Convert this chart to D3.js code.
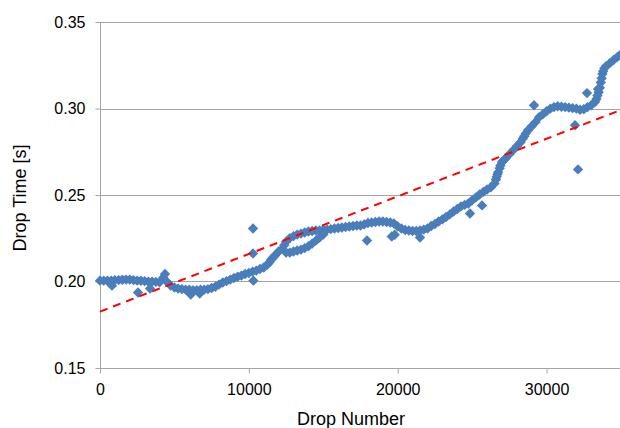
<!DOCTYPE html>
<html>
<head>
<meta charset="utf-8">
<script src="https://cdn.jsdelivr.net/npm/d3@7/dist/d3.min.js"></script>
<style>
  html, body { margin: 0; padding: 0; background: #fff; }
  svg { display: block; }
  text { font-family: "Liberation Sans", Arial, sans-serif; fill: #000; }
</style>
</head>
<body>
<svg id="chart" width="620" height="428"></svg>
<script>
// ---- data ----
const xTicks = [0, 10000, 20000, 30000];
const yTicks = [0.15, 0.20, 0.25, 0.30, 0.35];
const xDomain = [0, 35000];
const yDomain = [0.15, 0.35];

// main band, one value every 250 drops starting at 0
const mainStep = 250;
const mainValues = [
  0.2005, 0.2005, 0.2004, 0.2005, 0.2008, 0.2008, 0.2010, 0.2011, 0.2011, 0.2008,
  0.2005, 0.2004, 0.2002, 0.1999, 0.1999, 0.1998, 0.1996, 0.2023, 0.1998, 0.1976,
  0.1965, 0.1959, 0.1956, 0.1953, 0.1953, 0.1950, 0.1950, 0.1953, 0.1953, 0.1956,
  0.1962, 0.1970, 0.1982, 0.1994, 0.2002, 0.2011, 0.2020, 0.2028, 0.2034, 0.2043,
  0.2049, 0.2057, 0.2063, 0.2072, 0.2081, 0.2098, 0.2127, 0.2150, 0.2173, 0.2190,
  0.2230, 0.2251, 0.2262, 0.2271, 0.2277, 0.2283, 0.2289, 0.2292, 0.2295, 0.2295,
  0.2298, 0.2300, 0.2303, 0.2306, 0.2309, 0.2312, 0.2315, 0.2318, 0.2321, 0.2324,
  0.2324, 0.2330, 0.2338, 0.2341, 0.2344, 0.2347, 0.2347, 0.2344, 0.2341, 0.2335,
  0.2318, 0.2306, 0.2298, 0.2295, 0.2292, 0.2292, 0.2295, 0.2300, 0.2306, 0.2321,
  0.2332, 0.2347, 0.2359, 0.2373, 0.2388, 0.2405, 0.2419, 0.2434, 0.2443, 0.2451,
  0.2469, 0.2486, 0.2503, 0.2518, 0.2532, 0.2544, 0.2567, 0.2631, 0.2689, 0.2712,
  0.2735, 0.2758, 0.2782, 0.2805, 0.2840, 0.2874, 0.2897, 0.2921, 0.2950, 0.2967,
  0.2984, 0.2999, 0.3008, 0.3013, 0.3010, 0.3008, 0.3005, 0.3002, 0.2999, 0.2993,
  0.2996, 0.3008, 0.3019, 0.3037, 0.3094, 0.3199, 0.3245, 0.3262, 0.3280, 0.3297,
  0.3315
];

// lower branch between 12500 and 15000 drops
const lowerStart = 12500;
const lowerValues = [0.2167, 0.2167, 0.2173, 0.2179, 0.2184, 0.2193, 0.2204, 0.2219, 0.2236, 0.2254, 0.2271];

// points on the steep steps of the band: [drop, time]
const stepPoints = [
  [11400, 0.2112], [11650, 0.2140], [12380, 0.2210],
  [26600, 0.2590], [26650, 0.2605], [26700, 0.2620], [26850, 0.2655], [26900, 0.2670], [27100, 0.2700],
  [28400, 0.2825], [28600, 0.2855],
  [33350, 0.3055], [33420, 0.3075], [33580, 0.3120], [33640, 0.3150], [33700, 0.3175], [33800, 0.3215], [33880, 0.3232]
];

// scattered points away from the band: [drop, time]
const extraPoints = [
  [806, 0.1976], [2553, 0.1936], [3359, 0.1959], [4367, 0.2044],
  [6100, 0.1925], [6700, 0.1930], [10279, 0.2306], [10279, 0.2162], [10300, 0.2005],
  [17937, 0.2237], [19600, 0.2260], [19800, 0.2270], [21498, 0.2254],
  [24857, 0.2393], [25663, 0.2440], [29156, 0.3019], [31911, 0.2903],
  [32112, 0.2648], [32716, 0.3089], [33456, 0.3112]
];

// linear trend line: value at each end of the x range
const trendEnds = [[0, 0.1826], [35000, 0.2992]];

// ---- chart ----
const svg = d3.select("#chart");
const margin = { left: 100, right: 620, top: 22, bottom: 368 };

const x = d3.scaleLinear().domain(xDomain).range([margin.left, 621]);
const y = d3.scaleLinear().domain(yDomain).range([margin.bottom, margin.top]);

const gridColor = "#a6a6a6";

// gridlines
svg.append("g")
  .selectAll("line")
  .data(yTicks.filter(t => t !== 0.15))
  .join("line")
  .attr("x1", margin.left).attr("x2", 620)
  .attr("y1", d => Math.round(y(d)) + 0.5).attr("y2", d => Math.round(y(d)) + 0.5)
  .attr("stroke", gridColor).attr("stroke-width", 1);

// y axis
const yAxis = svg.append("g")
  .attr("transform", `translate(${margin.left + 0.5},0)`)
  .call(d3.axisLeft(y).tickValues(yTicks).tickFormat(d3.format(".2f")).tickSize(5).tickPadding(10));
yAxis.select(".domain").attr("stroke", gridColor).attr("d", `M0,${margin.top}V${margin.bottom}`);
yAxis.selectAll(".tick line").attr("stroke", gridColor);
yAxis.selectAll(".tick text").attr("font-size", "16px").attr("font-family", "Liberation Sans, Arial, sans-serif");

// x axis
const xAxis = svg.append("g")
  .attr("transform", `translate(0,${margin.bottom + 0.5})`)
  .call(d3.axisBottom(x).tickValues(xTicks).tickFormat(d3.format("d")).tickSize(5).tickPadding(10));
xAxis.select(".domain").attr("stroke", gridColor).attr("d", `M${margin.left},0H620`);
xAxis.selectAll(".tick line").attr("stroke", gridColor);
xAxis.selectAll(".tick text").attr("font-size", "16px").attr("font-family", "Liberation Sans, Arial, sans-serif");

// points
const pts = [];
mainValues.forEach((v, i) => pts.push([i * mainStep, v]));
lowerValues.forEach((v, i) => pts.push([lowerStart + i * mainStep, v]));
stepPoints.forEach(p => pts.push(p));
extraPoints.forEach(p => pts.push(p));

const r = 5.2;
const diamond = `M0,${-r}L${r},0L0,${r}L${-r},0Z`;
svg.append("g")
  .selectAll("path")
  .data(pts)
  .join("path")
  .attr("d", diamond)
  .attr("transform", d => `translate(${x(d[0])},${y(d[1])})`)
  .attr("fill", "#4a7ebb");

// trend line
svg.append("line")
  .attr("x1", x(trendEnds[0][0])).attr("y1", y(trendEnds[0][1]))
  .attr("x2", x(trendEnds[1][0])).attr("y2", y(trendEnds[1][1]))
  .attr("stroke", "#ff0000").attr("stroke-width", 2)
  .attr("stroke-dasharray", "8,6");

// axis titles
svg.append("text")
  .attr("x", 351).attr("y", 425)
  .attr("text-anchor", "middle").attr("font-size", "18px")
  .text("Drop Number");

svg.append("text")
  .attr("transform", "translate(26,198) rotate(-90)")
  .attr("text-anchor", "middle").attr("font-size", "18px")
  .text("Drop Time [s]");
</script>
</body>
</html>
